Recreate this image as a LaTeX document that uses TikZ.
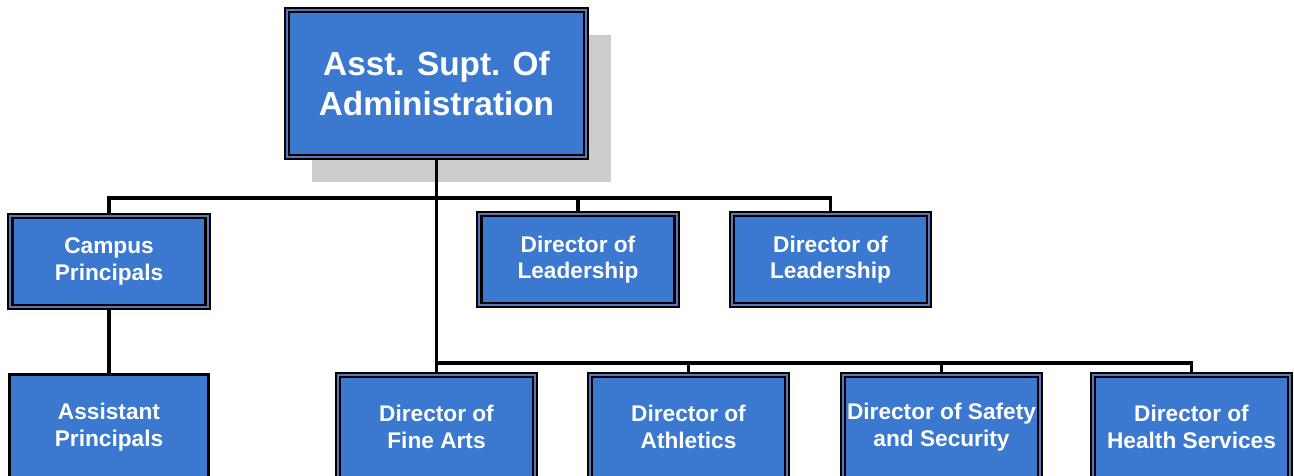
\documentclass[tikz,border=0pt]{standalone}
\usepackage{fontspec}
\setmainfont{Liberation Sans}
\usetikzlibrary{shadows}
\definecolor{orgblue}{HTML}{3B78CF}
\definecolor{orggap}{HTML}{5A78B8}
\definecolor{orgshadow}{HTML}{CCCCCC}

\begin{document}
\begin{tikzpicture}[x=0.75pt, y=-0.75pt,
        box/.style={rectangle, draw=black, line width=1.8pt, double=orggap, double distance=1.3pt, fill=orgblue, text=white, align=center, minimum width=148pt, minimum height=68.5pt, inner sep=1pt, font=\fontsize{17}{20}\selectfont\bfseries},
        lowbox/.style={box, minimum height=78pt},
        plainbox/.style={rectangle, draw=black, line width=2.4pt, fill=orgblue, text=white, align=center, minimum width=149.5pt, minimum height=79pt, inner sep=1pt, font=\fontsize{17}{20}\selectfont\bfseries},
        link/.style={line width=2.4pt}]
      \clip (0,0) rectangle (1294,475);
      % Head of the chart
      \node[box, minimum width=224.5pt, minimum height=110pt, font=\fontsize{25}{30}\selectfont\bfseries,
            drop shadow={shadow xshift=18.75pt, shadow yshift=-18.75pt, fill=orgshadow, opacity=1}] (supt) at (436.5,83.5) {Asst. Supt. Of\\Administration};

      % First row
      \node[box] (campus) at (109,261.5) {Campus\\Principals};
      \node[box] (lead1) at (578,259.5) {Director of\\Leadership};
      \node[box] (lead2) at (830.5,259.5) {Director of\\Leadership};

      % Second row
      \node[plainbox] (assist) at (109,427) {Assistant\\Principals};
      \node[lowbox] (arts) at (436.5,427) {Director of\\Fine Arts};
      \node[lowbox] (athl) at (688.5,427) {Director of\\Athletics};
      \node[lowbox] (safety) at (941.5,427) {Director of Safety\\and Security};
      \node[lowbox] (health) at (1191.5,427) {Director of\\Health Services};

      \coordinate (upbus) at (0,198);
      \coordinate (lowbus) at (0,363);

      % Connectors
      \draw[link] (supt.south) -- (arts.north);
      \draw[link] (campus.north) -- (campus.north |- upbus) -| (lead2.north);
      \draw[link] (lead1.north) -- (lead1.north |- upbus);
      \draw[link] (campus.south) -- (assist.north);
      \draw[link] (arts.north |- lowbus) -| (health.north);
      \draw[link] (athl.north) -- (athl.north |- lowbus);
      \draw[link] (safety.north) -- (safety.north |- lowbus);
    \end{tikzpicture}
\end{document}
